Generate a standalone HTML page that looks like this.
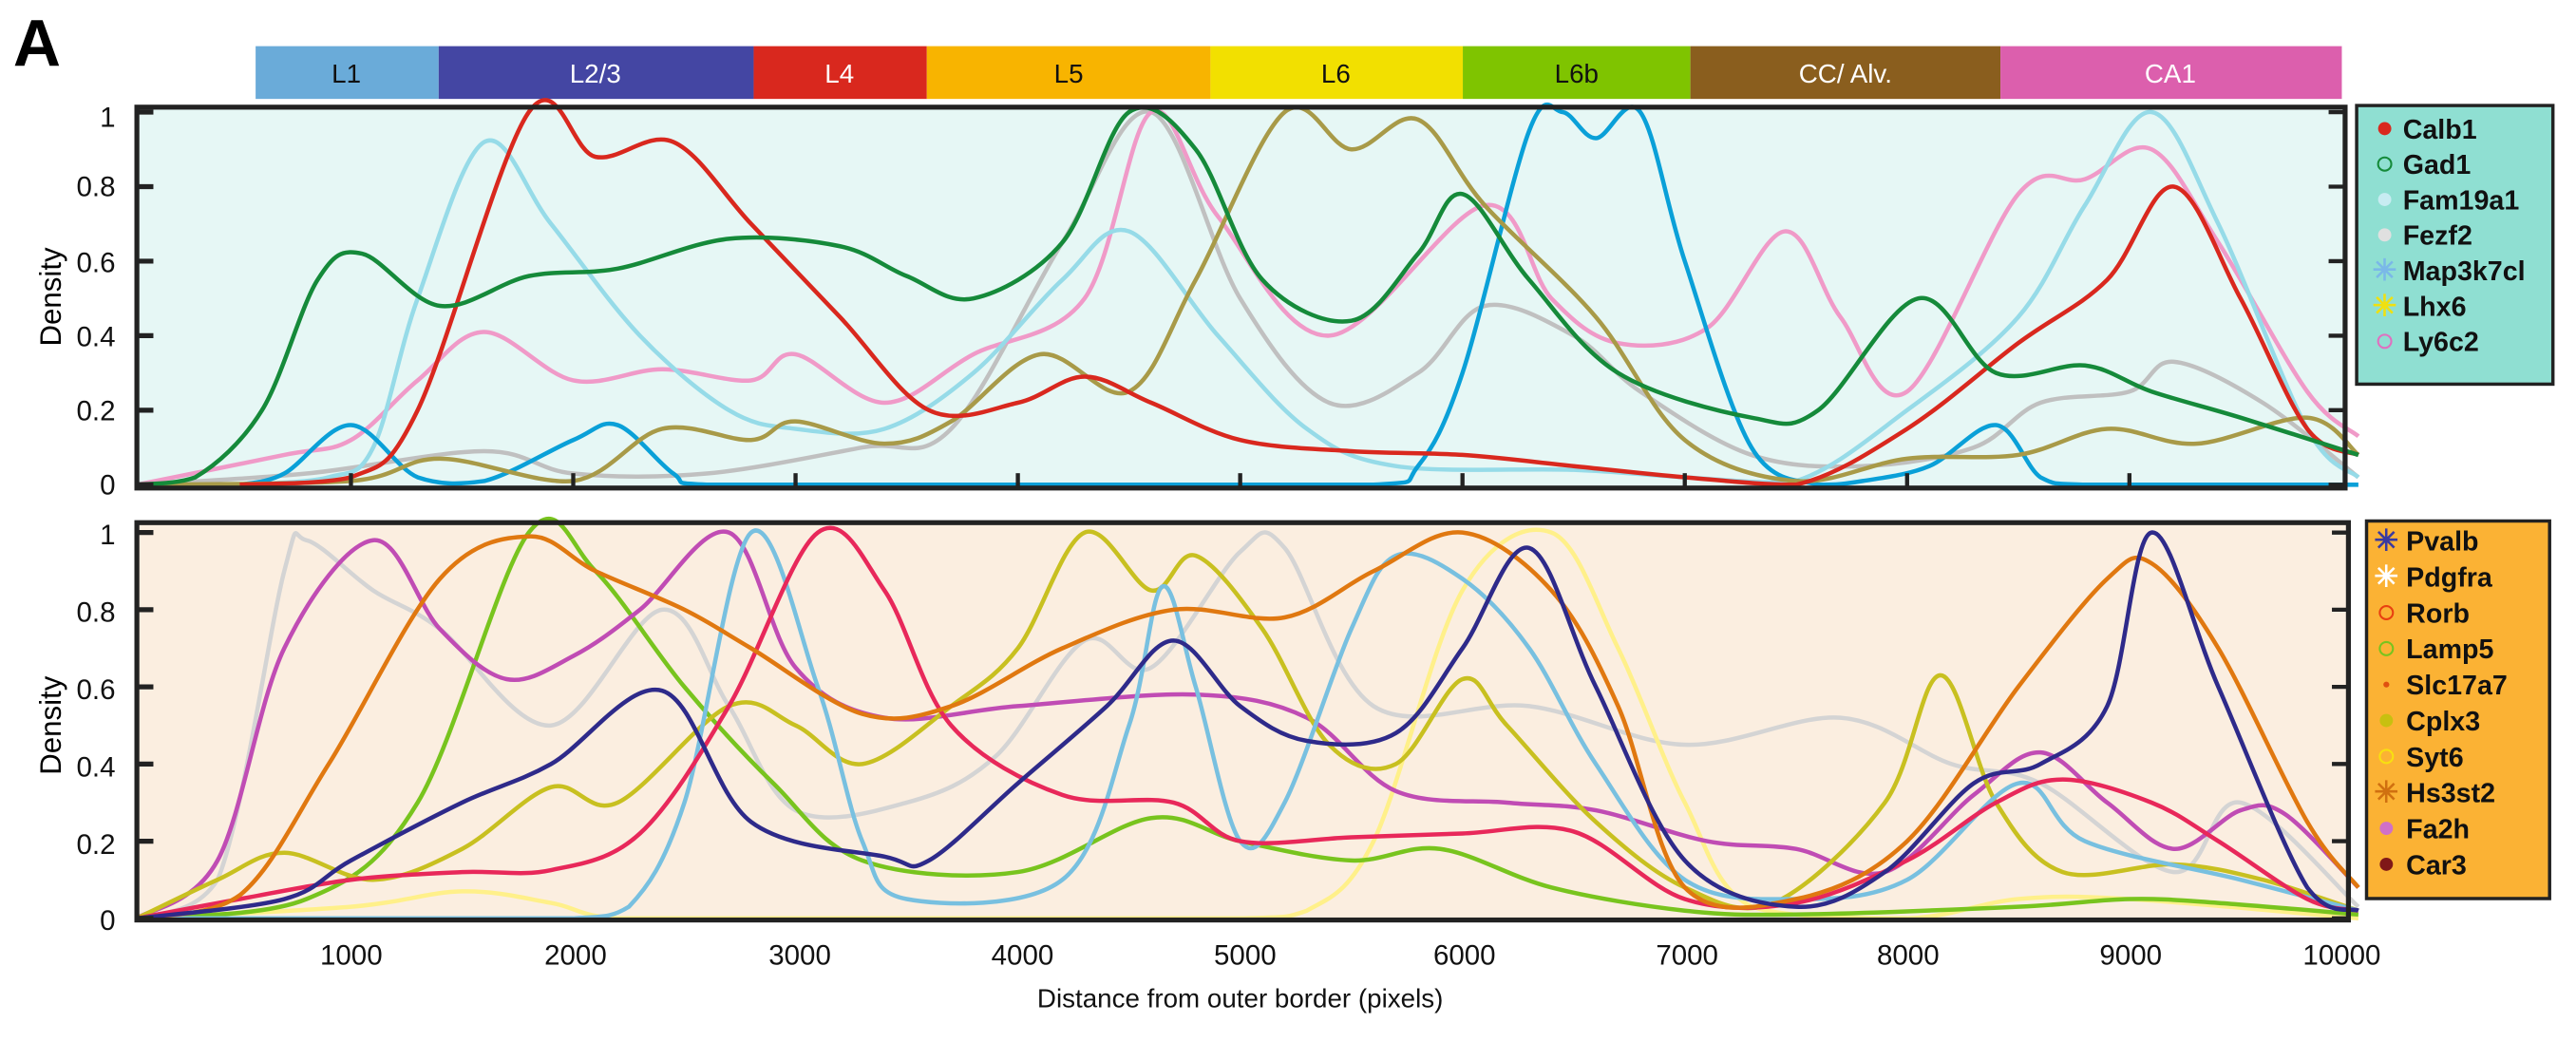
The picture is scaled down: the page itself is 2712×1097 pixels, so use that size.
<!DOCTYPE html>
<html><head><meta charset="utf-8"><style>
html,body{margin:0;padding:0;background:#fff;}
svg{display:block;}
text{font-family:"Liberation Sans",sans-serif;}
</style></head><body>
<svg id="s" width="2712" height="1097" viewBox="0 0 1562 632" preserveAspectRatio="none" xmlns="http://www.w3.org/2000/svg">
<text x="8" y="40" font-size="40" font-weight="bold">A</text>
<g font-size="16" text-anchor="middle">
<rect x="155" y="28" width="111" height="32" fill="#6aabd9"/><text x="210" y="50" fill="#111">L1</text>
<rect x="266" y="28" width="191" height="32" fill="#4446a3"/><text x="361" y="50" fill="#fff">L2/3</text>
<rect x="457" y="28" width="105" height="32" fill="#d9281e"/><text x="509" y="50" fill="#fff">L4</text>
<rect x="562" y="28" width="172" height="32" fill="#f8b400"/><text x="648" y="50" fill="#111">L5</text>
<rect x="734" y="28" width="153" height="32" fill="#f2e000"/><text x="810" y="50" fill="#111">L6</text>
<rect x="887" y="28" width="138" height="32" fill="#7fc400"/><text x="956" y="50" fill="#111">L6b</text>
<rect x="1025" y="28" width="188" height="32" fill="#8a5e1e"/><text x="1119" y="50" fill="#fff">CC/ Alv.</text>
<rect x="1213" y="28" width="207" height="32" fill="#dc5fad"/><text x="1316" y="50" fill="#fff">CA1</text>
</g>
<rect x="83" y="65" width="1339" height="231" fill="#e6f7f5"/>
<rect x="83" y="317" width="1341" height="241" fill="#fbeee0"/>
<g id="curves" fill="none" stroke-width="2.6"></g>
<g id="axes"></g>
<g font-size="17" text-anchor="end" fill="#111">
<text x="70" y="77">1</text><text x="70" y="119">0.8</text><text x="70" y="165">0.6</text><text x="70" y="210">0.4</text><text x="70" y="255">0.2</text><text x="70" y="300">0</text>
<text x="70" y="330">1</text><text x="70" y="377">0.8</text><text x="70" y="424">0.6</text><text x="70" y="471">0.4</text><text x="70" y="518">0.2</text><text x="70" y="564">0</text>
</g>
<g font-size="17" text-anchor="middle" fill="#111">
<text x="213" y="585">1000</text><text x="349" y="585">2000</text><text x="485" y="585">3000</text><text x="620" y="585">4000</text><text x="755" y="585">5000</text><text x="888" y="585">6000</text><text x="1023" y="585">7000</text><text x="1157" y="585">8000</text><text x="1292" y="585">9000</text><text x="1420" y="585">10000</text>
<text x="752" y="611" font-size="16">Distance from outer border (pixels)</text>
</g>
<text transform="translate(37,180) rotate(-90)" font-size="18" text-anchor="middle">Density</text>
<text transform="translate(37,440) rotate(-90)" font-size="18" text-anchor="middle">Density</text>
<rect x="1429" y="64" width="119" height="169" fill="#8fdfd2" stroke="#222" stroke-width="2"/>
<rect x="1435" y="316" width="111" height="229" fill="#fbb234" stroke="#222" stroke-width="2"/>
<g id="leg" font-size="16.5" font-weight="bold" fill="#111"></g>
</svg>
<script>
(function(){
var NS="http://www.w3.org/2000/svg";
function X(v){return 78+0.1348*v;}
function path(pts,base,h){var p=pts.map(function(a){return [X(a[0]),base-h*a[1]];});var d="M"+p[0][0]+","+p[0][1];
for(var i=0;i<p.length-1;i++){var p0=p[Math.max(0,i-1)],p1=p[i],p2=p[i+1],p3=p[Math.min(p.length-1,i+2)];
var c1y=p1[1]+(p2[1]-p0[1])/6,c2y=p2[1]-(p3[1]-p1[1])/6;
if(p1[1]==base&&p2[1]==base){c1y=base;c2y=base;}
c1y=Math.min(base,c1y);c2y=Math.min(base,c2y);
d+=" C"+(p1[0]+(p2[0]-p0[0])/6)+","+c1y+" "+(p2[0]-(p3[0]-p1[0])/6)+","+c2y+" "+p2[0]+","+p2[1];}return d;}
var TS=[
["#c0c0c0",[[37,0],[800,0.03],[1600,0.09],[2000,0.03],[2600,0.03],[3300,0.1],[3700,0.15],[4200,0.65],[4600,1.0],[5000,0.5],[5400,0.22],[5800,0.3],[6100,0.48],[6500,0.4],[6800,0.25],[7300,0.08],[7800,0.05],[8300,0.1],[8600,0.22],[9000,0.25],[9200,0.33],[9600,0.22],[10030,0.02]]],
["#f09ac8",[[37,0],[700,0.08],[1000,0.12],[1300,0.28],[1600,0.41],[2000,0.28],[2400,0.31],[2800,0.28],[3000,0.35],[3400,0.22],[3800,0.35],[4300,0.5],[4600,1.0],[4900,0.72],[5400,0.4],[6100,0.75],[6400,0.5],[6700,0.38],[7100,0.42],[7450,0.68],[7700,0.45],[8000,0.25],[8500,0.78],[8800,0.82],[9100,0.9],[9400,0.65],[9800,0.25],[10030,0.13]]],
["#96dbe8",[[500,0],[900,0.02],[1100,0.1],[1300,0.5],[1600,0.92],[1900,0.7],[2300,0.4],[2700,0.2],[3000,0.15],[3400,0.15],[3800,0.3],[4200,0.55],[4500,0.68],[4900,0.4],[5300,0.15],[5700,0.05],[6500,0.04],[7000,0.02],[7500,0.01],[8000,0.2],[8500,0.45],[8800,0.75],[9100,1.0],[9400,0.7],[9800,0.15],[10030,0.02]]],
["#0aa0d8",[[500,0],[700,0.03],[1000,0.16],[1300,0.02],[1600,0.01],[2000,0.12],[2200,0.16],[2450,0.03],[2600,0],[3500,0],[4500,0],[5600,0],[5800,0.05],[6000,0.3],[6300,0.95],[6450,1.0],[6600,0.93],[6800,1.0],[7000,0.6],[7300,0.1],[7600,0],[7800,0.01],[8100,0.05],[8400,0.16],[8600,0.02],[8800,0],[9500,0],[10030,0]]],
["#a89a48",[[37,0],[1000,0.01],[1400,0.07],[2000,0.01],[2400,0.15],[2800,0.12],[3000,0.17],[3400,0.11],[3700,0.17],[4100,0.35],[4500,0.25],[4800,0.55],[5200,1.0],[5500,0.9],[5800,0.98],[6100,0.75],[6600,0.45],[7000,0.12],[7500,0.01],[8000,0.07],[8500,0.08],[8900,0.15],[9300,0.11],[9800,0.18],[10030,0.08]]],
["#d9281e",[[500,0],[1000,0.02],[1300,0.2],[1800,1.0],[2100,0.88],[2450,0.92],[2800,0.7],[3200,0.45],[3600,0.2],[4000,0.22],[4300,0.29],[4600,0.22],[5000,0.12],[5500,0.09],[6000,0.08],[6500,0.05],[7000,0.02],[7500,0],[8000,0.15],[8500,0.38],[8900,0.55],[9200,0.8],[9500,0.5],[9800,0.15],[10030,0.08]]],
["#158a3a",[[37,0],[300,0.02],[600,0.2],[850,0.55],[1050,0.62],[1400,0.48],[1800,0.56],[2200,0.58],[2700,0.66],[3200,0.64],[3500,0.56],[3800,0.5],[4200,0.65],[4500,1.0],[4800,0.9],[5100,0.55],[5500,0.44],[5800,0.62],[6000,0.78],[6300,0.55],[6700,0.3],[7300,0.18],[7600,0.2],[8050,0.5],[8400,0.3],[8800,0.32],[9100,0.25],[9500,0.18],[10030,0.08]]]];
var BS=[
["#d4d4d4",[[37,0],[400,0.1],[700,0.9],[800,0.98],[1100,0.85],[1400,0.75],[1900,0.5],[2400,0.8],[2700,0.55],[3000,0.28],[3500,0.3],[3900,0.42],[4300,0.72],[4600,0.65],[5000,0.95],[5200,0.96],[5600,0.55],[6300,0.55],[7000,0.45],[7700,0.52],[8200,0.4],[8600,0.35],[9200,0.12],[9500,0.3],[10030,0.03]]],
["#fff08a",[[37,0],[1000,0.03],[1500,0.07],[1900,0.04],[2200,0],[3000,0],[4000,0],[5000,0],[5300,0.02],[5600,0.2],[6000,0.85],[6400,1.0],[6700,0.7],[7000,0.3],[7300,0.03],[8000,0],[8500,0.05],[9000,0.05],[10030,0]]],
["#78c41e",[[37,0],[800,0.05],[1300,0.3],[1800,1.0],[2100,0.9],[2500,0.6],[2900,0.35],[3300,0.15],[4000,0.12],[4600,0.26],[5000,0.2],[5500,0.15],[5900,0.18],[6400,0.08],[7000,0.02],[7500,0.01],[8500,0.03],[9000,0.05],[9400,0.04],[10030,0.01]]],
["#c04cb4",[[37,0],[400,0.15],[700,0.7],[1100,0.98],[1400,0.75],[1700,0.62],[2000,0.68],[2300,0.8],[2700,1.0],[3000,0.65],[3400,0.52],[4000,0.55],[4800,0.58],[5300,0.52],[5700,0.33],[6200,0.3],[6600,0.28],[7100,0.2],[7500,0.18],[7900,0.12],[8300,0.32],[8600,0.43],[8900,0.3],[9200,0.18],[9500,0.28],[9700,0.27],[10030,0.08]]],
["#c8c020",[[37,0],[400,0.1],[700,0.17],[1100,0.1],[1500,0.18],[1900,0.34],[2200,0.3],[2700,0.55],[3000,0.5],[3300,0.4],[3700,0.55],[4000,0.7],[4300,1.0],[4600,0.85],[4800,0.94],[5100,0.75],[5400,0.45],[5700,0.4],[6000,0.62],[6200,0.5],[6600,0.25],[7000,0.08],[7400,0.04],[7900,0.3],[8150,0.63],[8400,0.3],[8700,0.12],[9200,0.14],[9600,0.1],[10030,0.02]]],
["#78c0e0",[[37,0],[1500,0],[2000,0],[2250,0.03],[2500,0.3],[2800,1.0],[3100,0.6],[3300,0.2],[3500,0.05],[4200,0.1],[4500,0.5],[4650,0.86],[4800,0.6],[5000,0.2],[5200,0.3],[5500,0.75],[5700,0.94],[6000,0.88],[6300,0.7],[6600,0.4],[7000,0.1],[7500,0.05],[8000,0.1],[8500,0.35],[8800,0.2],[9500,0.1],[10030,0.02]]],
["#e8285a",[[37,0],[500,0.05],[1000,0.1],[1500,0.12],[1900,0.125],[2300,0.22],[2700,0.55],[3100,1.0],[3400,0.85],[3700,0.5],[4200,0.32],[4700,0.3],[5000,0.2],[5500,0.21],[6000,0.22],[6500,0.225],[7000,0.05],[7500,0.04],[8000,0.15],[8400,0.3],[8700,0.36],[9100,0.3],[9400,0.2],[9800,0.05],[10030,0.02]]],
["#e07810",[[37,0],[500,0.06],[900,0.4],[1400,0.88],[1800,0.99],[2100,0.9],[2500,0.8],[2800,0.7],[3300,0.53],[3700,0.55],[4200,0.7],[4700,0.8],[5200,0.78],[5600,0.9],[6000,1.0],[6400,0.85],[6700,0.55],[7000,0.08],[7500,0.05],[8000,0.2],[8500,0.6],[8900,0.88],[9100,0.92],[9400,0.7],[9800,0.25],[10030,0.08]]],
["#2e2a8a",[[37,0],[700,0.05],[1000,0.15],[1500,0.3],[1900,0.4],[2400,0.59],[2800,0.25],[3400,0.16],[3600,0.15],[4000,0.35],[4400,0.55],[4700,0.72],[5000,0.55],[5300,0.46],[5700,0.48],[6000,0.7],[6300,0.96],[6600,0.6],[7000,0.15],[7500,0.03],[7900,0.12],[8300,0.35],[8600,0.4],[8900,0.55],[9100,1.0],[9400,0.6],[9800,0.08],[10030,0.02]]]];
var g=document.getElementById("curves");
function add(list,base,h){list.forEach(function(s){var e=document.createElementNS(NS,"path");e.setAttribute("d",path(s[1],base,h));e.setAttribute("stroke",s[0]);g.appendChild(e);});}
add(TS,294,226);add(BS,557,234);
var ax=document.getElementById("axes");
function el(t,a){var e=document.createElementNS(NS,t);for(var k in a)e.setAttribute(k,a[k]);ax.appendChild(e);return e;}
el("rect",{x:83,y:65,width:1339,height:231,fill:"none",stroke:"#222","stroke-width":3});
el("rect",{x:83,y:317,width:1341,height:241,fill:"none",stroke:"#222","stroke-width":3});
for(var i=0;i<=5;i++){var y=294-45.2*i;el("line",{x1:83,x2:93,y1:y,y2:y,stroke:"#222","stroke-width":3});el("line",{x1:1412,x2:1422,y1:y,y2:y,stroke:"#222","stroke-width":2.5});
y=557-46.8*i;el("line",{x1:83,x2:93,y1:y,y2:y,stroke:"#222","stroke-width":3});el("line",{x1:1414,x2:1424,y1:y,y2:y,stroke:"#222","stroke-width":2.5});}
for(var v=1000;v<=9000;v+=1000){var x=X(v);el("line",{x1:x,x2:x,y1:296,y2:287,stroke:"#222","stroke-width":2.5});}
var lg=document.getElementById("leg");
function lt(x,y,s){var e=document.createElementNS(NS,"text");e.setAttribute("x",x);e.setAttribute("y",y);e.textContent=s;lg.appendChild(e);}
function mk(x,y,c,type,r){var e;if(type=="f"||type=="o"){e=document.createElementNS(NS,"circle");e.setAttribute("cx",x);e.setAttribute("cy",y);e.setAttribute("r",r||4);
if(type=="f"){e.setAttribute("fill",c);}else{e.setAttribute("fill","none");e.setAttribute("stroke",c);e.setAttribute("stroke-width",1.2);}lg.appendChild(e);}
else{var t=document.createElementNS(NS,"text");t.setAttribute("x",x);t.setAttribute("y",y+6);t.setAttribute("text-anchor","middle");t.setAttribute("fill",c);t.setAttribute("font-size",18);t.textContent="\u2733";lg.appendChild(t);}}
var L1=[["Calb1","#d9281e","f"],["Gad1","#158a3a","o"],["Fam19a1","#c8ecf2","f"],["Fezf2","#e0e0e0","f"],["Map3k7cl","#7ab8e8","s"],["Lhx6","#f0e010","s"],["Ly6c2","#e070c0","o"]];
L1.forEach(function(a,i){var y=79+21.5*i;mk(1446,y-1,a[1],a[2]);lt(1457,y+5,a[0]);});
var L2=[["Pvalb","#3a3aa0","s"],["Pdgfra","#ffffff","s"],["Rorb","#e84010","o"],["Lamp5","#78c41e","o"],["Slc17a7","#e05010","f",1.8],["Cplx3","#c8c010","f"],["Syt6","#f8e010","o"],["Hs3st2","#d07010","s"],["Fa2h","#d070c8","f"],["Car3","#801818","f"]];
L2.forEach(function(a,i){var y=328+21.8*i;mk(1447,y,a[1],a[2],a[3]);lt(1459,y+6,a[0]);});
})();
</script>
</body></html>
